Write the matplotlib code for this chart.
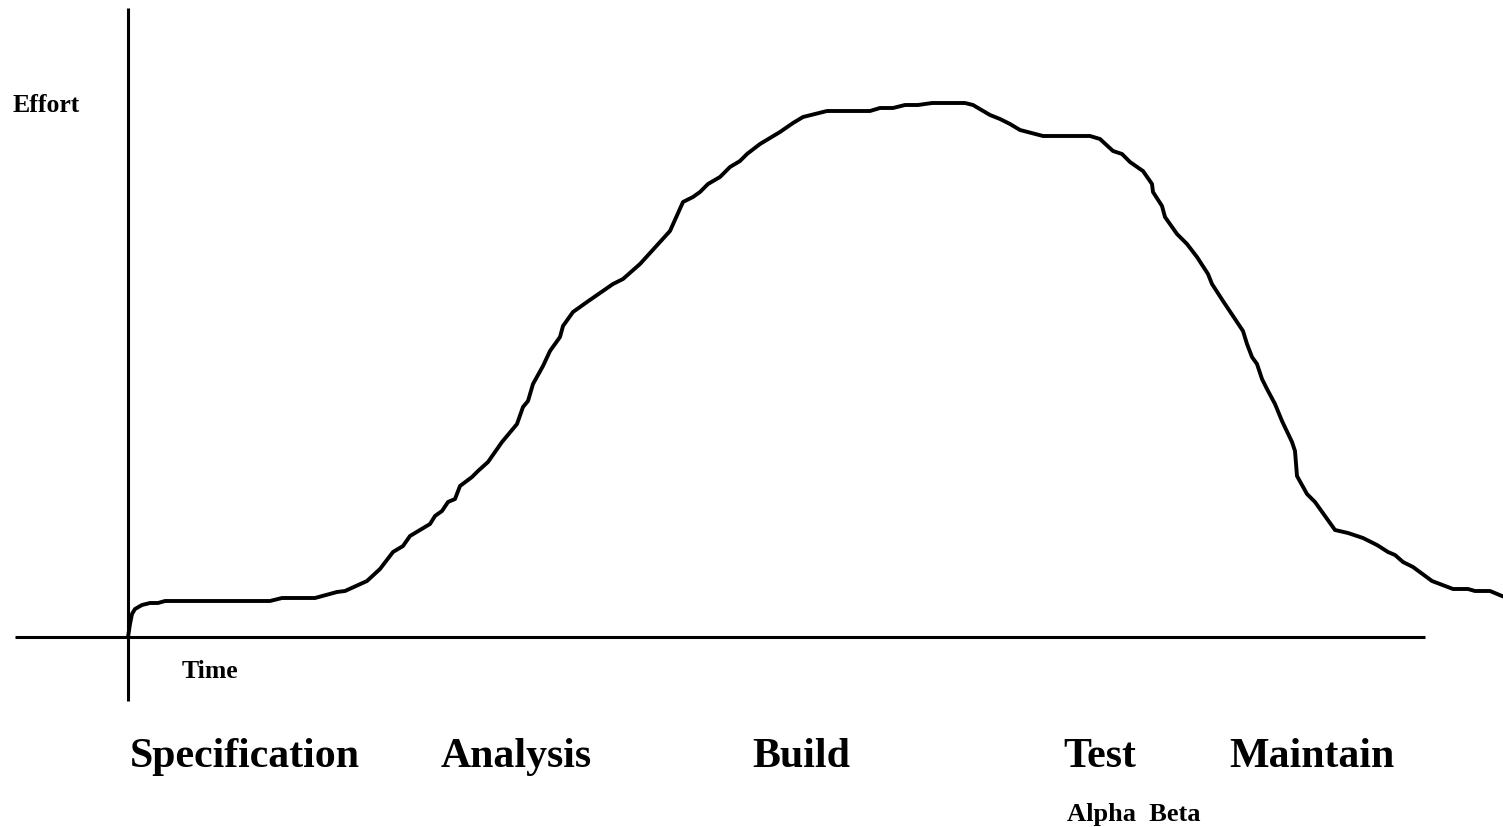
import matplotlib
matplotlib.use("Agg")
import matplotlib.pyplot as plt

# Effort curve over time (time and effort in arbitrary units, origin at axes crossing)
time = [0, 2, 4, 7, 14, 22, 30, 37, 142, 154, 187, 209, 217, 239, 252, 265, 275, 282,
        302, 307, 314, 320, 327, 332, 344, 350, 360, 374, 389, 395, 400, 405, 415, 422,
        432, 435, 445, 459, 485, 495, 512, 532, 542, 555, 565, 572, 580, 592, 602, 612,
        619, 632, 652, 665, 675, 699, 742, 752, 765, 777, 790, 804, 837, 845, 862, 872,
        882, 892, 915, 962, 972, 985, 994, 1002, 1012, 1015, 1024, 1025, 1034, 1037,
        1049, 1059, 1069, 1080, 1084, 1095, 1105, 1115, 1119, 1124, 1129, 1134, 1139,
        1147, 1154, 1164, 1167, 1169, 1179, 1187, 1207, 1220, 1235, 1249, 1260, 1267,
        1275, 1285, 1304, 1325, 1340, 1347, 1362, 1374]
effort = [0, 13, 23, 28, 32, 34, 34, 36, 36, 39, 39, 45, 46, 56, 68, 85, 91, 101,
          113, 121, 126, 135, 138, 151, 160, 166, 175, 195, 213, 230, 236, 253, 271, 286,
          300, 311, 325, 335, 353, 358, 373, 395, 406, 435, 440, 445, 453, 460, 470, 476,
          483, 493, 505, 514, 520, 526, 526, 529, 529, 532, 532, 534, 534, 532, 522, 518,
          513, 507, 501, 501, 498, 486, 483, 475, 468, 466, 453, 445, 431, 420,
          403, 393, 380, 363, 353, 336, 321, 306, 293, 280, 273, 258, 248,
          233, 216, 195, 186, 161, 143, 135, 107, 104, 99, 92, 85, 82,
          75, 70, 56, 48, 48, 46, 46, 41]

phases = ["Specification", "Analysis", "Build", "Test", "Maintain"]
sub_label = "Alpha  Beta"
y_label = "Effort"
x_label = "Time"

W, H = 1503, 828
fig = plt.figure(figsize=(W / 100, H / 100), dpi=100)
ax = fig.add_axes([0, 0, 1, 1])
ox, oy = 128, 638  # pixel position of origin
ax.set_xlim(-ox, W - ox)
ax.set_ylim(oy - H, oy)
ax.axis("off")

# axes lines
ax.plot([15 - ox, 1425 - ox], [0, 0], color="black", lw=2.2, solid_capstyle="butt")
ax.plot([0, 0], [oy - 702, oy - 9], color="black", lw=2.2, solid_capstyle="butt")

# curve
ax.plot(time, effort, color="black", lw=2.8, solid_joinstyle="round", clip_on=False)

font = "Liberation Serif"

def ftext(px, py, s, size):
    fig.text(px / W, 1 - py / H, s, fontsize=size, fontweight="bold", family=font,
             ha="left", va="baseline", color="black")

ftext(13, 112, y_label, 18.5)
ftext(182, 678, x_label, 18.5)
phase_x = [130, 441, 752, 1063, 1229]
for px, s in zip(phase_x, phases):
    ftext(px, 767, s, 30.2)
ftext(1067, 821, sub_label, 19)

fig.savefig("out.png", dpi=100, facecolor="white")
